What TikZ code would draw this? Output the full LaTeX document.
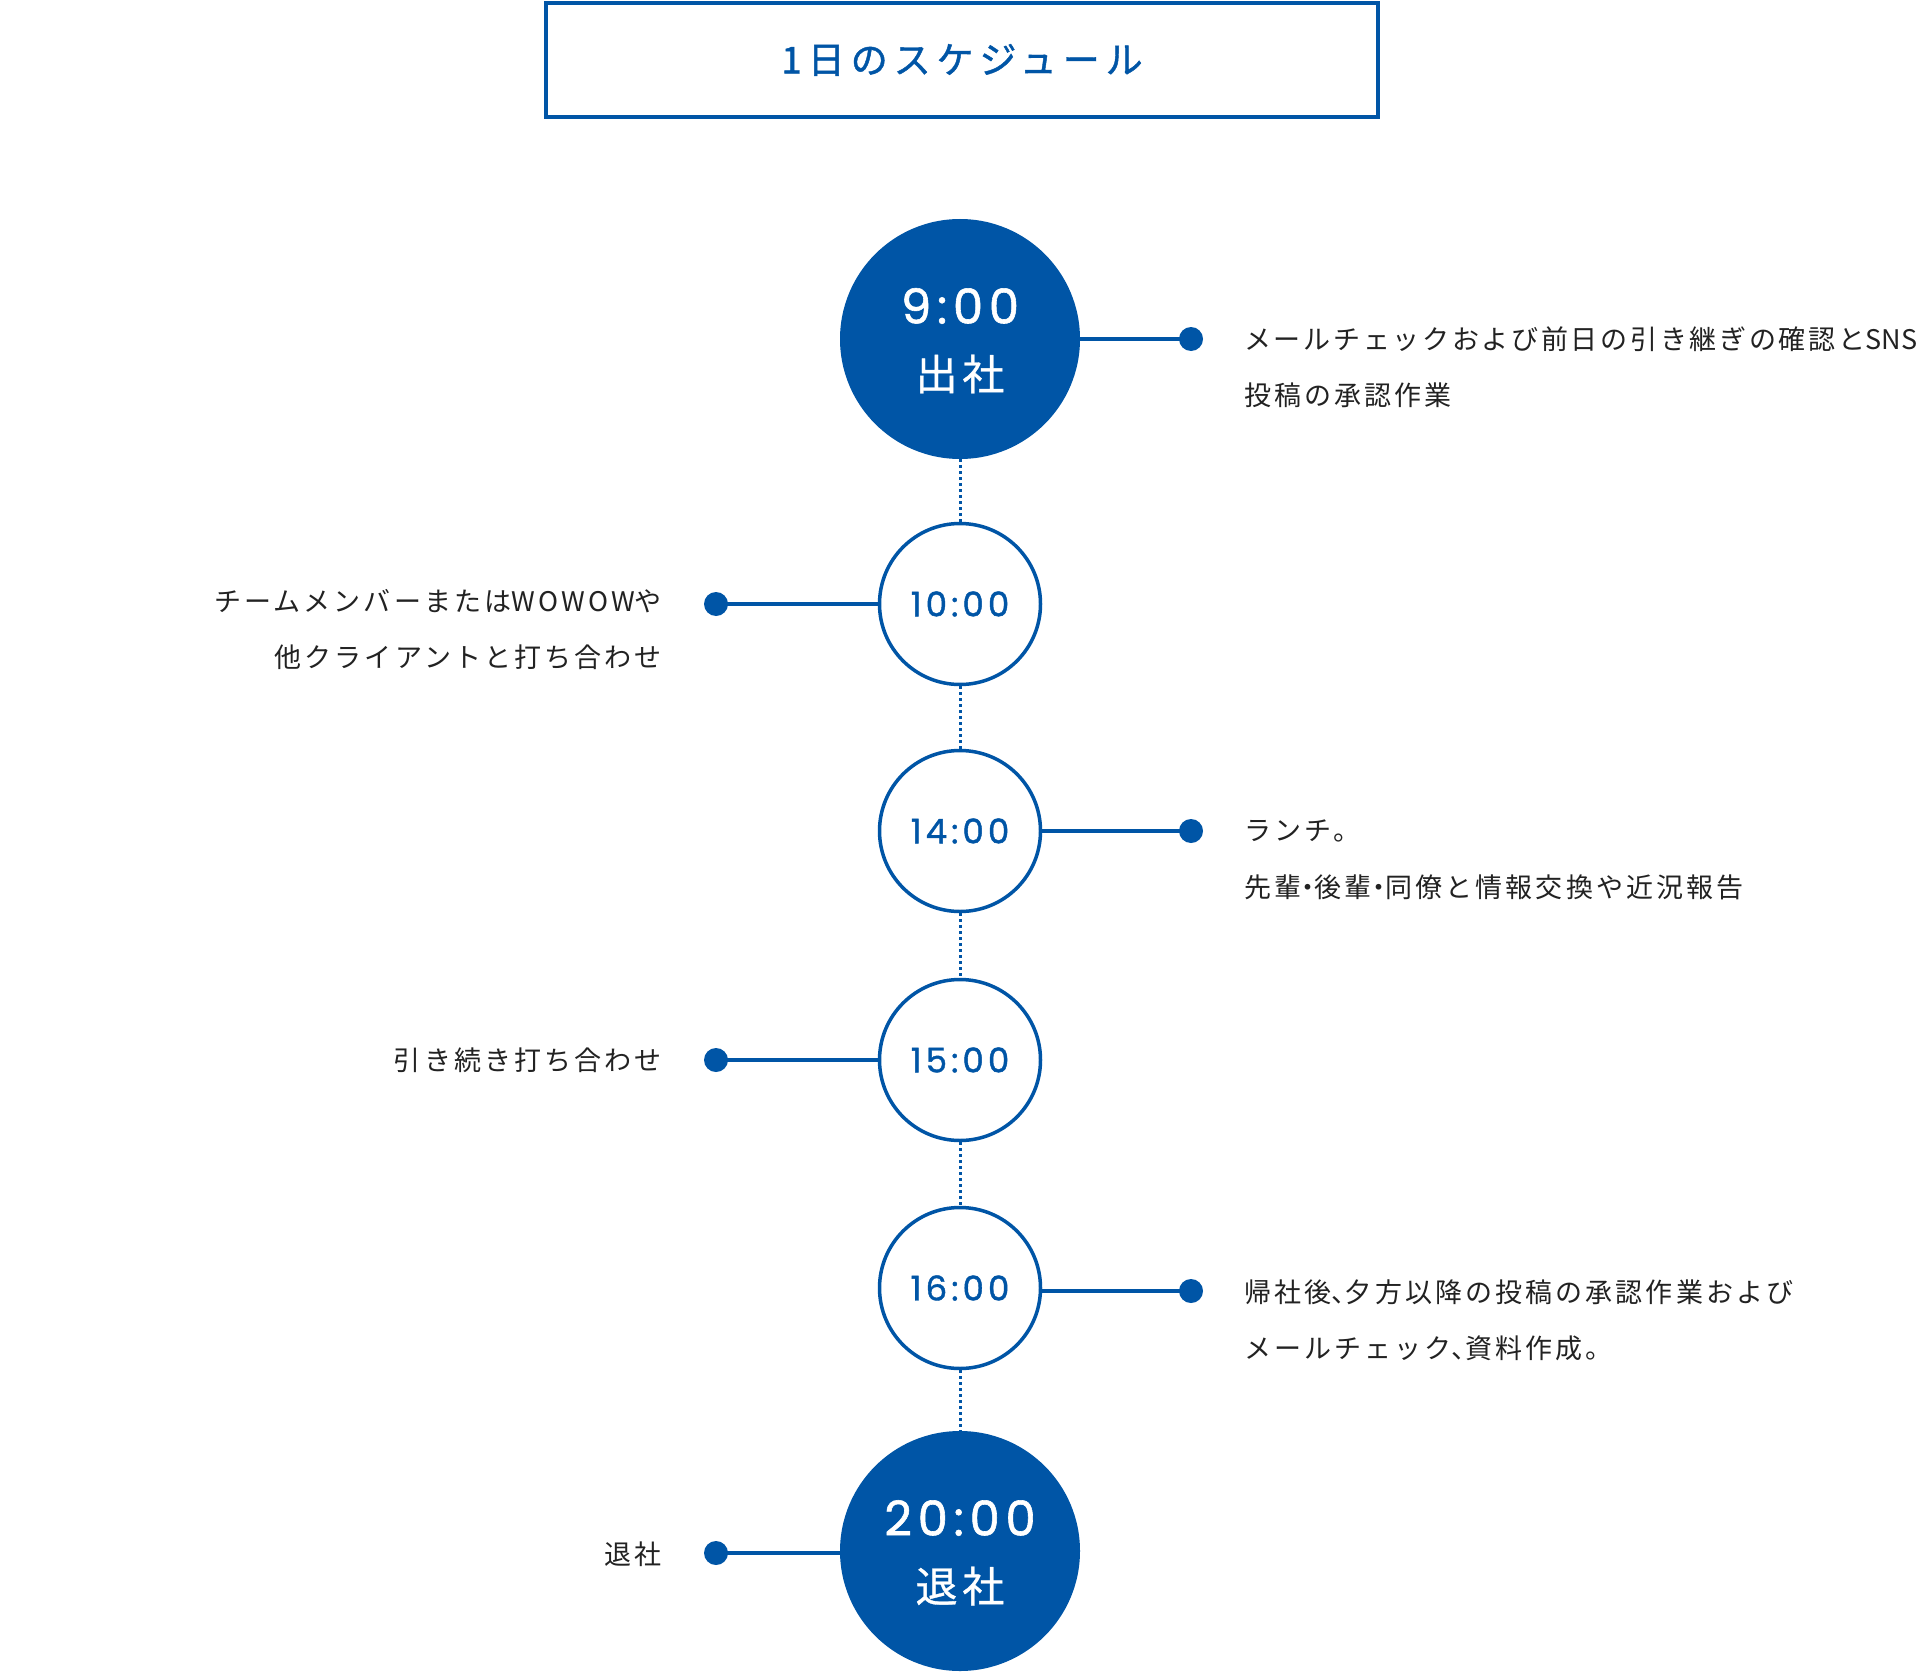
\documentclass[tikz,border=0pt]{standalone}
\usepackage{fontspec}
\setmainfont{Noto Sans CJK JP}
\newfontfamily\jpfont[LetterSpace=11.5]{Noto Sans CJK JP}
\newfontfamily\latfont[LetterSpace=2]{Noto Sans CJK JP}
\newfontfamily\titlefont[LetterSpace=16,FakeBold=1.2]{Noto Sans CJK JP}
\newfontfamily\numfont[LetterSpace=12,FakeBold=1.2]{Poppins}
\newcommand{\narrowp}[1]{\makebox[0.5em][l]{#1}}
\newcommand{\narrowc}[1]{\makebox[0.5em][c]{#1}}
\definecolor{brand}{RGB}{0,85,166}
\definecolor{ink}{RGB}{34,34,34}
\begin{document}
\begin{tikzpicture}[x=1pt,y=-1pt,
  bigc/.style={circle,fill=brand,minimum size=240pt,inner sep=0pt},
  smc/.style={circle,draw=brand,line width=3.5pt,fill=white,minimum size=161pt,inner sep=0pt,text=brand,font=\numfont\fontsize{34}{34}\selectfont},
  bignum/.style={text=white,inner sep=0pt,font=\numfont\fontsize{48}{48}\selectfont},
  bigjp/.style={text=white,inner sep=0pt,font=\jpfont\addfontfeatures{FakeBold=0.8}\fontsize{42}{42}\selectfont},
  link/.style={draw=brand,dash pattern=on 3pt off 3pt,line width=3pt},
  conn/.style={draw=brand,line width=3.5pt},
  dotn/.style={circle,fill=brand,minimum size=24pt,inner sep=0pt},
  rt/.style={anchor=west,text=ink,inner sep=0pt,font=\jpfont\fontsize{27}{27}\selectfont},
  lt/.style={anchor=east,text=ink,inner sep=0pt,font=\jpfont\fontsize{27}{27}\selectfont}]
\useasboundingbox[fill=white] (0,0) rectangle (1920,1672);
% title
\node[draw=brand,line width=4pt,minimum width=832pt,minimum height=114pt,inner sep=0pt,text=brand,font=\titlefont\fontsize{37}{37}\selectfont] (title) at (962,60) {1日のスケジュール};
% circles
\node[bigc] (c9) at (960,339) {};
\node[bignum] (c9t) at (960,306) {9:00};
\node[bigjp] (c9s) at (960,374) {出社};
\node[smc] (c10) at (960,604) {10:00};
\node[smc] (c14) at (960,831) {14:00};
\node[smc] (c15) at (960,1060) {15:00};
\node[smc] (c16) at (960,1288) {16:00};
\node[bigc] (c20) at (960,1551) {};
\node[bignum] (c20t) at (960,1518) {20:00};
\node[bigjp] (c20s) at (960,1586) {退社};
% dotted links
\draw[link] (c9.south) -- (c10.north);
\draw[link] (c10.south) -- (c14.north);
\draw[link] (c14.south) -- (c15.north);
\draw[link] (c15.south) -- (c16.north);
\draw[link] (c16.south) -- (c20.north);
% dots
\node[dotn] (d9) at (1191,339) {};
\node[dotn] (d10) at (716,604) {};
\node[dotn] (d14) at (1191,831) {};
\node[dotn] (d15) at (716,1060) {};
\node[dotn] (d16) at (1191,1291) {};
\node[dotn] (d20) at (716,1553) {};
% connectors
\draw[conn] (c9.east) -- (d9.center);
\draw[conn] (c10.west) -- (d10.center);
\draw[conn] (c14.east) -- (d14.center);
\draw[conn] (c15.west) -- (d15.center);
\draw[conn] (c16.east |- d16) -- (d16.center);
\draw[conn] (c20.west |- d20) -- (d20.center);
% texts
\node[rt] (t9a) at (1244,339) {\addfontfeatures{LetterSpace=10}メールチェックおよび前日の引き継ぎの確認と{\latfont SNS}};
\node[rt] (t9b) at (1244,395) {投稿の承認作業};
\node[lt] (t10a) at (662,601) {チームメンバーまたは{\addfontfeatures{LetterSpace=12}WOWOW}や};
\node[lt] (t10b) at (662,657) {他クライアントと打ち合わせ};
\node[rt] (t14a) at (1244,831) {ランチ。};
\node[rt] (t14b) at (1244,887) {先輩\narrowc{・}後輩\narrowc{・}同僚と情報交換や近況報告};
\node[lt] (t15) at (662,1060) {引き続き打ち合わせ};
\node[rt] (t16a) at (1244,1292) {帰社後\narrowp{、}夕方以降の投稿の承認作業および};
\node[rt] (t16b) at (1244,1348) {メールチェック\narrowp{、}資料作成。};
\node[lt] (t20) at (662,1554) {退社};
\end{tikzpicture}
\end{document}
